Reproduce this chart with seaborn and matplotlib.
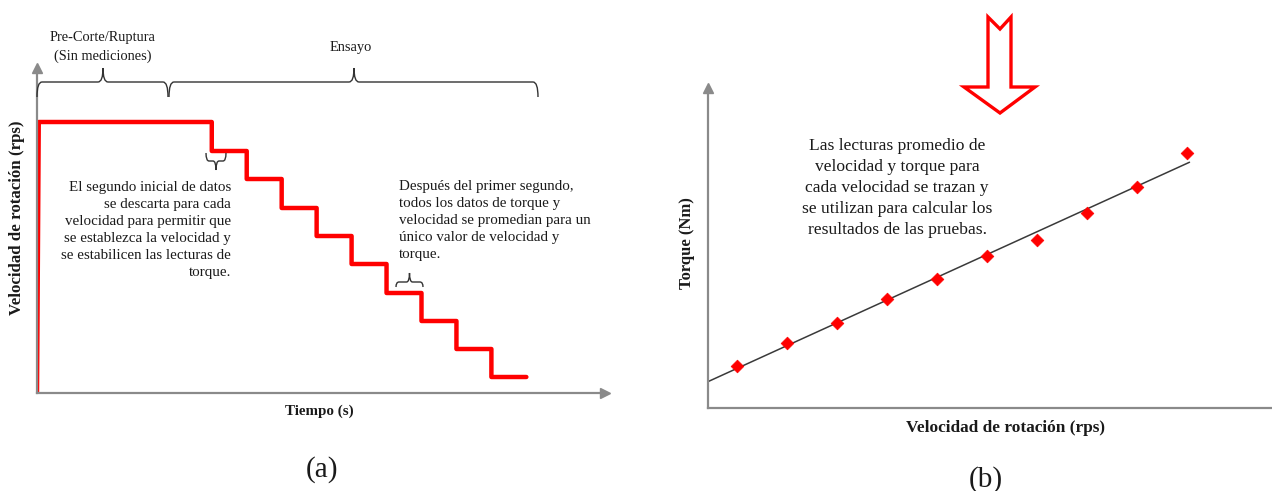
import numpy as np
import pandas as pd
import matplotlib
matplotlib.use("Agg")
import matplotlib.pyplot as plt
import seaborn as sns
from matplotlib.path import Path
from matplotlib.patches import PathPatch, Polygon

# ---- Panel (a): rotation-speed schedule over time ----
precut_end_s = 10.0          # end of the pre-cut / rupture period
precut_speed_rps = 27.1      # speed held during pre-cut
step_start_s = [10, 12, 14, 16, 18, 20, 22, 24, 26]
step_length_s = 2.0
step_speed_rps = [24.2, 21.4, 18.5, 15.7, 12.9, 10.0, 7.2, 4.4, 1.6]

# ---- Panel (b): averaged readings for each speed step ----
avg_speed_rps = [1, 2, 3, 4, 5, 6, 7, 8, 9, 10]
avg_torque_nm = [4.2, 6.5, 8.5, 10.9, 12.9, 15.2, 16.8, 19.5, 22.1, 25.5]

# ---- Annotation texts ----
precut_label = "Pre-Corte/Ruptura\n(Sin mediciones)"
test_label = "Ensayo"
discard_note = ("El segundo inicial de datos\nse descarta para cada\n"
                "velocidad para permitir que\nse establezca la velocidad y\n"
                "se estabilicen las lecturas de\ntorque.")
average_note = ("Después del primer segundo,\ntodos los datos de torque y\n"
                "velocidad se promedian para un\núnico valor de velocidad y\ntorque.")
result_note = ("Las lecturas promedio de\nvelocidad y torque para\n"
               "cada velocidad se trazan y\nse utilizan para calcular los\n"
               "resultados de las pruebas.")

sns.set_theme(style="white")
plt.rcParams["font.family"] = ["Liberation Serif", "DejaVu Serif"]

W, H = 1272, 491
fig = plt.figure(figsize=(W / 100, H / 100), dpi=100)


def fx(px):
    return px / W


def fy(py):
    return 1 - py / H


def axes_px(x0, y_top, x1, y_bot):
    return fig.add_axes([fx(x0), fy(y_bot), (x1 - x0) / W, (y_bot - y_top) / H])


AXIS_GRAY = "#8a8a8a"
RED = "#ff0000"


def style_axes(ax, x_arrow=True, y_arrow=True):
    for s in ("top", "right"):
        ax.spines[s].set_visible(False)
    for s in ("left", "bottom"):
        ax.spines[s].set_color(AXIS_GRAY)
        ax.spines[s].set_linewidth(1.6)
    ax.set_xticks([])
    ax.set_yticks([])
    ax.set_facecolor("none")
    if x_arrow:
        ax.plot(1, 0, ">", color=AXIS_GRAY, ms=7, transform=ax.transAxes, clip_on=False)
    if y_arrow:
        ax.plot(0, 1, "^", color=AXIS_GRAY, ms=7, transform=ax.transAxes, clip_on=False)


def brace(x0, x1, y, tip_x, end_len, tip_len, direction=1, r=5, lw=1.0):
    """Curly brace in pixel coords; direction=1: ends curl down, tip points up."""
    d = direction
    verts = [
        (x0, y + d * end_len), (x0, y), (x0 + r, y),
        (tip_x - r, y), (tip_x, y), (tip_x, y - d * tip_len),
        (tip_x, y), (tip_x + r, y),
        (x1 - r, y), (x1, y), (x1, y + d * end_len),
    ]
    codes = [Path.MOVETO, Path.CURVE3, Path.CURVE3,
             Path.LINETO, Path.CURVE3, Path.CURVE3,
             Path.CURVE3, Path.CURVE3,
             Path.LINETO, Path.CURVE3, Path.CURVE3]
    path = Path([(fx(a), fy(b)) for a, b in verts], codes)
    fig.add_artist(PathPatch(path, transform=fig.transFigure, fill=False,
                             edgecolor="#333333", lw=lw))


# ---------------- Panel (a) ----------------
ax1 = axes_px(37, 68, 605, 393)
t_pts = [0.0, 0.1, precut_end_s]
v_pts = [0.0, precut_speed_rps, precut_speed_rps]
for t0, v in zip(step_start_s, step_speed_rps):
    t_pts += [t0, t0 + step_length_s]
    v_pts += [v, v]
profile = pd.DataFrame({"t": t_pts, "v": v_pts})
sns.lineplot(data=profile, x="t", y="v", estimator=None, sort=False,
             color=RED, lw=3.2, ax=ax1)
ax1.set_xlim(0, 32.5)
ax1.set_ylim(0, 32.5)
ax1.set_xlabel("")
ax1.set_ylabel("")
style_axes(ax1)

# ---------------- Panel (b) ----------------
ax2 = axes_px(708, 88, 1272, 408)
slope, intercept = np.polyfit(avg_speed_rps, avg_torque_nm, 1)
x_lo, x_hi = 0.42, 10.05
ax2.set_xlim(x_lo, 11.7)
ax2.set_ylim(0, 32)
fit_x = np.array([x_lo, x_hi])
sns.lineplot(x=fit_x, y=slope * fit_x + intercept, color="#3a3a3a", lw=1.1, ax=ax2)
sns.scatterplot(x=avg_speed_rps, y=avg_torque_nm, marker="D", s=42,
                color=RED, edgecolor=RED, linewidth=0.5, zorder=3, ax=ax2)
ax2.set_xlabel("")
ax2.set_ylabel("")
style_axes(ax2, x_arrow=False)

# ---------------- Text and decorations ----------------
txt = dict(color="#1a1a1a")
fig.text(fx(103), fy(47), precut_label, ha="center", va="center",
         fontsize=10.4, linespacing=1.44, **txt)
fig.text(fx(351), fy(47), test_label, ha="center", va="center", fontsize=10.4, **txt)
brace(37, 168, 82, 103, 15, 14)
brace(169, 538, 82, 354, 15, 14)

fig.text(fx(231), fy(230), discard_note, ha="right", va="center",
         multialignment="right", fontsize=10.8, linespacing=1.4, **txt)
fig.text(fx(399), fy(221), average_note, ha="left", va="center",
         fontsize=10.8, linespacing=1.4, **txt)
brace(206, 226, 161, 216, 8, 9, direction=-1, r=3)
brace(396, 423, 282, 409.5, 5, 9, direction=1, r=3)

fig.text(fx(17), fy(218), "Velocidad de rotación (rps)", rotation=90,
         ha="center", va="center", fontsize=12.2, fontweight="bold", **txt)
fig.text(fx(319), fy(411), "Tiempo (s)", ha="center", va="center",
         fontsize=10.8, fontweight="bold", **txt)
fig.text(fx(322), fy(470), "(a)", ha="center", va="center", fontsize=21, **txt)

fig.text(fx(897), fy(188), result_note, ha="center", va="center",
         fontsize=12.6, linespacing=1.43, **txt)
fig.text(fx(687), fy(243), "Torque (Nm)", rotation=90, ha="center", va="center",
         fontsize=12, fontweight="bold", **txt)
fig.text(fx(1006), fy(428), "Velocidad de rotación (rps)", ha="center", va="center",
         fontsize=12.4, fontweight="bold", **txt)
fig.text(fx(986), fy(480), "(b)", ha="center", va="center", fontsize=21, **txt)

# hollow downward arrow above panel (b)
arrow_px = [(988, 17), (1000, 29), (1011, 17), (1011, 87), (1035, 87),
            (1000, 113), (964, 87), (988, 87)]
fig.add_artist(Polygon([(fx(a), fy(b)) for a, b in arrow_px], closed=True,
                       transform=fig.transFigure, facecolor="white",
                       edgecolor=RED, lw=2.4, joinstyle="miter"))

fig.savefig("out.png", dpi=100)
